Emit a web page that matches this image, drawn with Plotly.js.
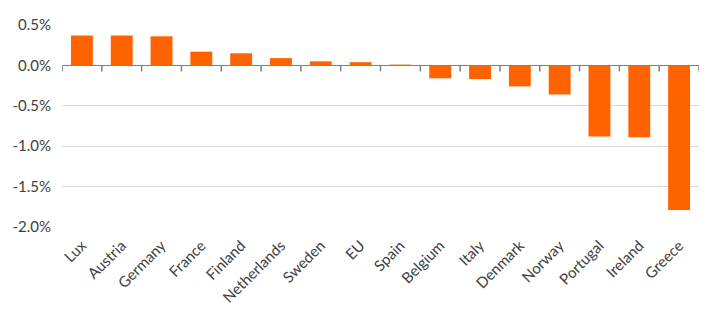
<!DOCTYPE html>
<html>
<head>
<meta charset="utf-8">
<script src="https://cdn.plot.ly/plotly-3.0.1.min.js"></script>
<style>html,body{margin:0;padding:0;background:#fff;}#chart{width:721px;height:329px;}</style>
</head>
<body>
<div id="chart"></div>
<script>
const countries = ["Lux","Austria","Germany","France","Finland","Netherlands","Sweden","EU","Spain","Belgium","Italy","Denmark","Norway","Portugal","Ireland","Greece"];
const values = [0.37, 0.37, 0.36, 0.17, 0.15, 0.09, 0.05, 0.04, 0.01, -0.16, -0.17, -0.26, -0.36, -0.88, -0.89, -1.79];
const yTickVals = [0.5, 0.0, -0.5, -1.0, -1.5, -2.0];
const yTickText = ["0.5%", "0.0%", "-0.5%", "-1.0%", "-1.5%", "-2.0%"];

const trace = {
  type: 'bar',
  x: countries.map((c, i) => i),
  y: values,
  marker: {color: '#ff6200'},
  hoverinfo: 'skip'
};

// category boundary tick marks hanging below the zero line
const boundaries = countries.map((c, i) => i - 0.5).concat([countries.length - 0.5]);
const shapes = boundaries.map(b => ({
  type: 'line', xref: 'x', yref: 'y', ysizemode: 'pixel', yanchor: 0,
  x0: b, x1: b, y0: 0, y1: -6,
  line: {color: '#808080', width: 1.5}
}));

const layout = {
  width: 721, height: 329,
  margin: {l: 62, r: 22, t: 25, b: 101.5},
  paper_bgcolor: '#fff', plot_bgcolor: '#fff',
  showlegend: false,
  bargap: 0.45,
  font: {family: 'Lato, "Open Sans", sans-serif', size: 15, color: '#404040'},
  shapes: shapes,
  xaxis: {
    range: [-0.5, countries.length - 0.5],
    tickmode: 'array',
    tickvals: countries.map((c, i) => i),
    ticktext: countries,
    tickangle: -45,
    ticks: '',
    ticklabelstandoff: 6,
    showline: false,
    showgrid: false,
    zeroline: false,
    tickfont: {size: 15, color: '#404040'},
    fixedrange: true
  },
  yaxis: {
    range: [-2.0, 0.5],
    tickmode: 'array',
    tickvals: yTickVals,
    ticktext: yTickText,
    showgrid: true,
    gridcolor: '#d9d9d9',
    gridwidth: 1,
    zeroline: true,
    zerolinecolor: '#808080',
    zerolinewidth: 1.5,
    showline: false,
    ticks: '',
    ticklabelstandoff: 10,
    tickfont: {size: 15, color: '#404040'},
    fixedrange: true
  }
};

Plotly.newPlot('chart', [trace], layout, {displayModeBar: false, staticPlot: true});
</script>
</body>
</html>
